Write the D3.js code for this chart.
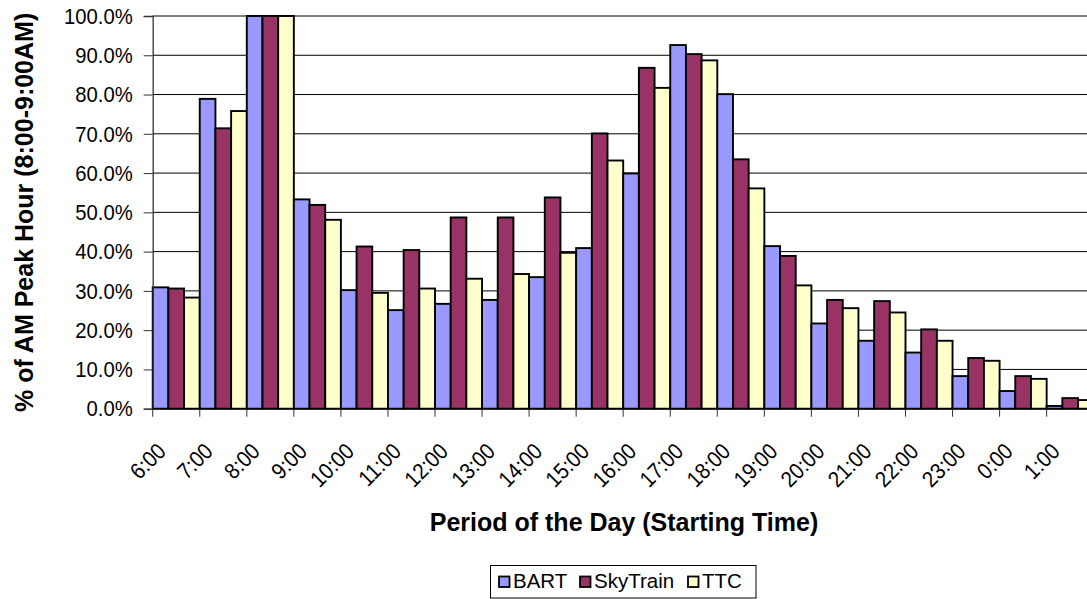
<!DOCTYPE html>
<html>
<head>
<meta charset="utf-8">
<script src="https://cdn.jsdelivr.net/npm/d3@7"></script>
<style>
  html, body { margin: 0; padding: 0; background: #fff; }
  svg { display: block; font-family: "Liberation Sans", Arial, sans-serif; }
</style>
</head>
<body>
<svg id="chart" width="1087" height="599"></svg>
<script>
const categories = ["6:00","7:00","8:00","9:00","10:00","11:00","12:00","13:00","14:00","15:00",
  "16:00","17:00","18:00","19:00","20:00","21:00","22:00","23:00","0:00","1:00"];
const seriesNames = ["BART","SkyTrain","TTC"];
const bart     = [0.309,0.789,1.000,0.533,0.302,0.251,0.267,0.277,0.335,0.409,0.599,0.926,0.801,0.414,0.217,0.173,0.143,0.083,0.045,0.007];
const skytrain = [0.306,0.714,1.000,0.519,0.413,0.404,0.487,0.487,0.538,0.701,0.868,0.903,0.635,0.389,0.277,0.274,0.202,0.129,0.083,0.027];
const ttc      = [0.283,0.758,1.000,0.481,0.295,0.306,0.331,0.343,0.397,0.632,0.817,0.887,0.561,0.314,0.256,0.245,0.173,0.122,0.076,0.022];
const yTicks = [0,0.1,0.2,0.3,0.4,0.5,0.6,0.7,0.8,0.9,1.0];
const colors = ["#9999FF","#993366","#FFFFCC"];
const yTitle = "% of AM Peak Hour (8:00-9:00AM)";
const xTitle = "Period of the Day (Starting Time)";

(function () {
const values = [bart, skytrain, ttc];
const svg = d3.select("#chart");
const W = 1087;
const plotLeft = 152.7, bandW = 47.05, plotTop = 16, plotBottom = 408.7;

const x0 = d3.scaleBand().domain(categories).range([plotLeft, plotLeft + bandW * categories.length]).padding(0);
const x1 = d3.scaleBand().domain(seriesNames).range([0, x0.bandwidth()]).padding(0);
const y = d3.scaleLinear().domain([0, 1]).range([plotBottom, plotTop]);

// compress text horizontally (narrow rendering like the original)
function squeeze(sel, k) {
  sel.each(function () {
    const len = this.getComputedTextLength();
    d3.select(this).attr("textLength", len * k).attr("lengthAdjust", "spacingAndGlyphs");
  });
}

// gridlines
svg.append("g").selectAll("line").data(yTicks.filter(d => d > 0)).join("line")
  .attr("x1", plotLeft).attr("x2", W)
  .attr("y1", d => y(d)).attr("y2", d => y(d))
  .attr("stroke", "#000").attr("stroke-width", 1);

// bars
const groups = svg.append("g").selectAll("g").data(categories).join("g")
  .attr("transform", c => `translate(${x0(c)},0)`);
groups.selectAll("rect").data((c, i) => seriesNames.map((s, k) => ({s, v: values[k][i], k})))
  .join("rect")
  .attr("x", d => x1(d.s))
  .attr("y", d => y(d.v))
  .attr("width", x1.bandwidth())
  .attr("height", d => y(0) - y(d.v))
  .attr("fill", d => colors[d.k])
  .attr("stroke", "#000")
  .attr("stroke-width", 1.9);

// y axis
const yAxis = d3.axisLeft(y).tickValues(yTicks).tickFormat(d3.format(".1%")).tickSize(9).tickPadding(11);
const gy = svg.append("g").attr("transform", `translate(${plotLeft},0)`).call(yAxis);
gy.select(".domain").attr("stroke", "#333").attr("stroke-width", 1.3);
gy.selectAll(".tick line").attr("stroke", "#333");
gy.selectAll("text").attr("font-size", 22.5).attr("fill", "#000")
  .attr("font-family", "Liberation Sans, Arial, sans-serif").call(squeeze, 0.9);

// x axis (ticks at band boundaries)
const gx = svg.append("g");
gx.append("line").attr("x1", plotLeft).attr("x2", W).attr("y1", plotBottom).attr("y2", plotBottom)
  .attr("stroke", "#000").attr("stroke-width", 1.5);
gx.selectAll("line.tk").data(categories).join("line").attr("class", "tk")
  .attr("x1", c => x0(c)).attr("x2", c => x0(c))
  .attr("y1", plotBottom).attr("y2", plotBottom + 8)
  .attr("stroke", "#333").attr("stroke-width", 1);
gx.selectAll("text").data(categories).join("text")
  .attr("transform", c => `translate(${x0(c) + x0.bandwidth() / 2 - 9},${plotBottom + 44}) rotate(-45)`)
  .attr("text-anchor", "end")
  .attr("font-size", 22.5)
  .attr("fill", "#000")
  .text(c => c)
  .call(squeeze, 0.9);

// titles
svg.append("text")
  .attr("transform", `translate(33,${(plotTop + plotBottom) / 2}) rotate(-90)`)
  .attr("text-anchor", "middle").attr("font-weight", "bold").attr("font-size", 25)
  .text(yTitle);
svg.append("text")
  .attr("x", 624).attr("y", 531)
  .attr("text-anchor", "middle").attr("font-weight", "bold").attr("font-size", 25)
  .text(xTitle);

// legend
const lg = svg.append("g");
lg.append("rect").attr("x", 490.5).attr("y", 565.5).attr("width", 265.5).attr("height", 32.5)
  .attr("fill", "#fff").attr("stroke", "#000").attr("stroke-width", 1);
const legX = [499, 580, 688];
seriesNames.forEach((s, k) => {
  lg.append("rect").attr("x", legX[k]).attr("y", 576.5).attr("width", 10.5).attr("height", 10.5)
    .attr("fill", colors[k]).attr("stroke", "#000").attr("stroke-width", 1.8);
  lg.append("text").attr("x", legX[k] + 14).attr("y", 588).attr("font-size", 20.5).text(s);
});
})();
</script>
</body>
</html>
